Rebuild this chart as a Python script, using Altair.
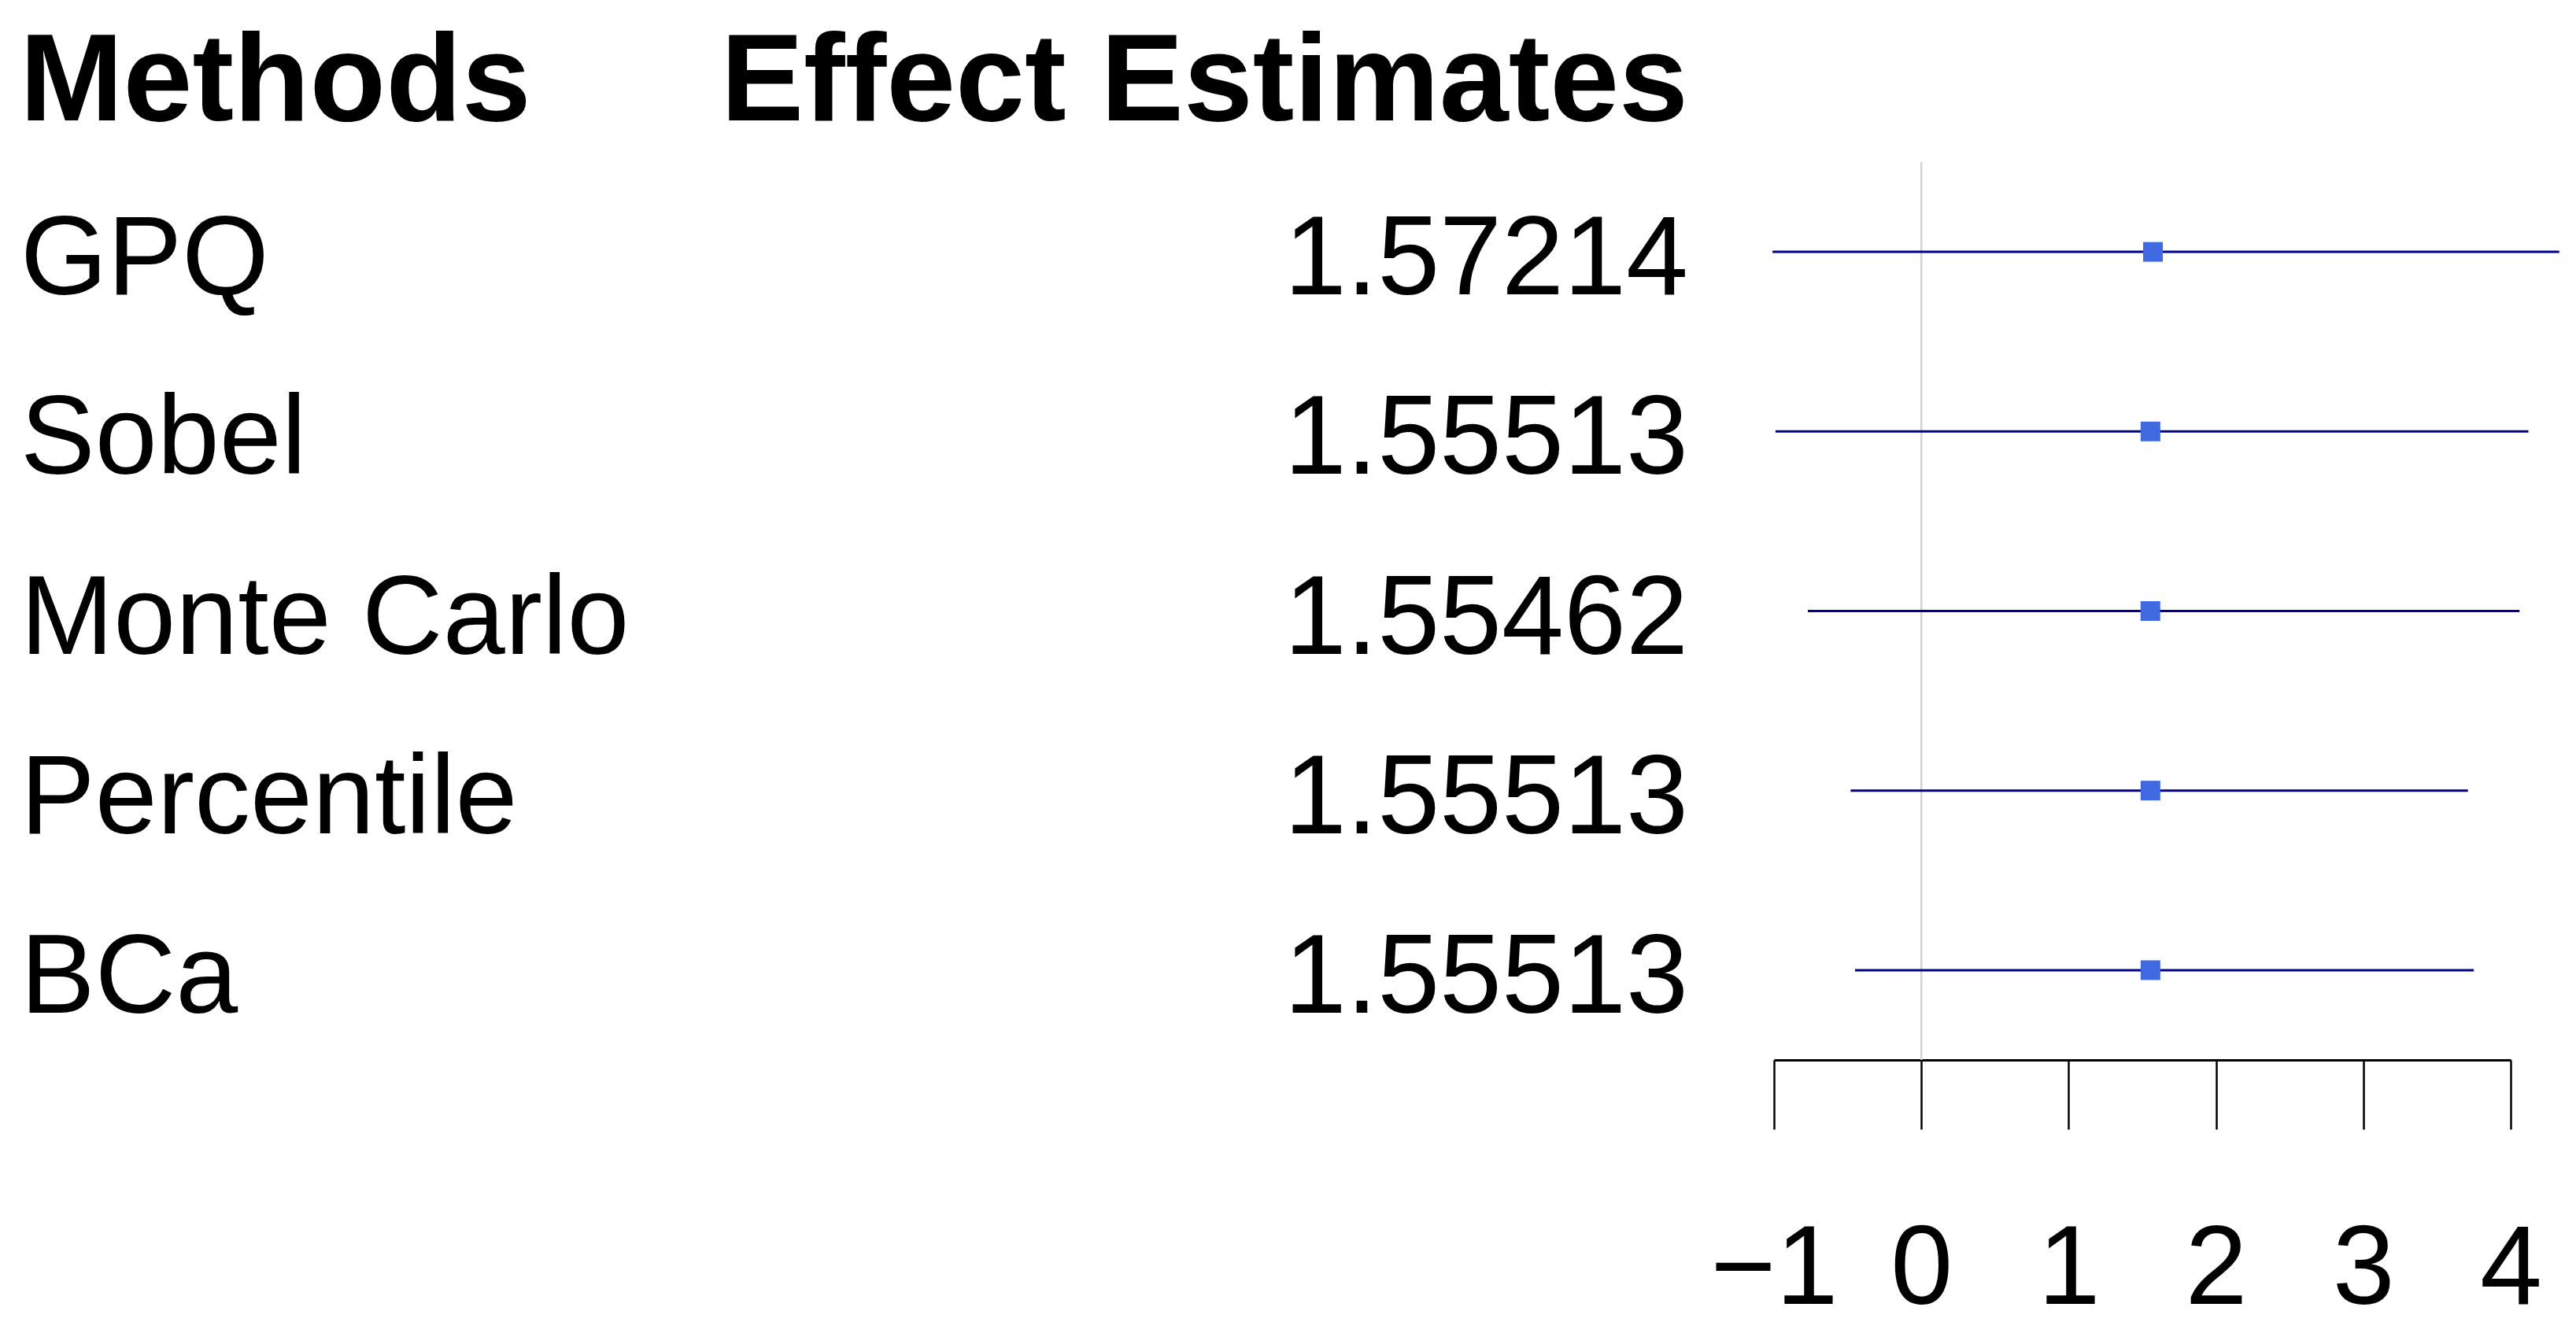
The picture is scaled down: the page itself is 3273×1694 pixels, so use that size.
import altair as alt
import pandas as pd

# ---- data ----
methods = ["GPQ", "Sobel", "Monte Carlo", "Percentile", "BCa"]
estimates = [1.57214, 1.55513, 1.55462, 1.55513, 1.55513]
estimate_labels = ["1.57214", "1.55513", "1.55462", "1.55513", "1.55513"]
lower = [-1.01, -0.99, -0.77, -0.48, -0.45]
upper = [4.33, 4.12, 4.06, 3.71, 3.75]
headers = ["Methods", "Effect Estimates"]
x_ticks = [-1, 0, 1, 2, 3, 4]
zero_line = [0]

df = pd.DataFrame({
    "method": methods,
    "est": estimates,
    "label": estimate_labels,
    "lower": lower,
    "upper": upper,
})

FONT = "Liberation Sans"
W, H = 936, 1141

yenc = alt.Y("method:N", sort=methods,
             scale=alt.Scale(type="point", padding=0.5), axis=None)
xscale = alt.Scale(domain=[-1, 4], nice=False, zero=False)
xaxis = alt.Axis(values=x_ticks, title=None, grid=False, format="d",
                 tickSize=88, tickWidth=2.5, tickColor="black",
                 domainColor="black", domainWidth=3,
                 labelFontSize=142, labelFont=FONT, labelColor="black",
                 labelBaseline="alphabetic", labelPadding=221,
                 labelFlush=False, labelOverlap=False)

zero = alt.Chart(pd.DataFrame({"x": zero_line})).mark_rule(
    color="#d3d3d3", strokeWidth=2.5
).encode(x=alt.X("x:Q", scale=xscale, axis=xaxis))

ci = alt.Chart(df).mark_rule(color="#00008B", strokeWidth=3).encode(
    x=alt.X("lower:Q", scale=xscale, axis=xaxis), x2="upper:Q", y=yenc
)

pts = alt.Chart(df).mark_square(
    size=625, color="#4169E1", opacity=1, filled=True
).encode(x=alt.X("est:Q", scale=xscale, axis=xaxis), y=yenc)

mtext = alt.Chart(df).mark_text(
    align="left", baseline="alphabetic", dy=54, fontSize=142, font=FONT, color="black"
).encode(x=alt.value(-2228), y=yenc, text="method:N")

etext = alt.Chart(df).mark_text(
    align="right", baseline="alphabetic", dy=54, fontSize=142, font=FONT, color="black"
).encode(x=alt.value(-109), y=yenc, text="label:N")

h1 = alt.Chart(pd.DataFrame({"h": [headers[0]]})).mark_text(
    align="left", baseline="alphabetic", fontSize=158, fontWeight="bold", font=FONT, color="black"
).encode(x=alt.value(-2229), y=alt.value(-53), text="h:N")

h2 = alt.Chart(pd.DataFrame({"h": [headers[1]]})).mark_text(
    align="right", baseline="alphabetic", fontSize=158, fontWeight="bold", font=FONT, color="black"
).encode(x=alt.value(-109), y=alt.value(-53), text="h:N")

chart = alt.layer(zero, ci, pts, mtext, etext, h1, h2).properties(
    width=W, height=H,
    autosize=alt.AutoSizeParams(type="none"),
    padding={"left": 2246, "top": 198, "right": 75, "bottom": 339},
    background="white",
).configure_view(stroke=None)

chart.save("out.html", embed_options={"renderer": "svg", "actions": False})
